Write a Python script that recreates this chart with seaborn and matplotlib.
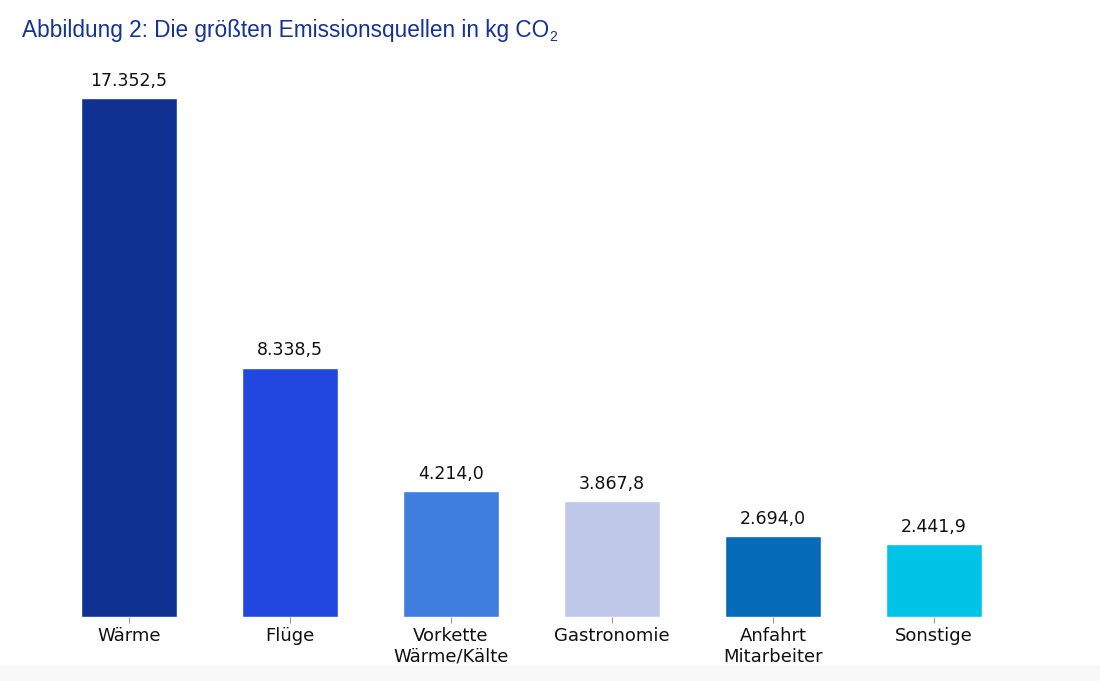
import os
import seaborn as sns
import pandas as pd
import matplotlib.pyplot as plt
from matplotlib import font_manager
from matplotlib.patches import Rectangle

categories = ["Wärme", "Flüge", "Vorkette\nWärme/Kälte", "Gastronomie", "Anfahrt\nMitarbeiter", "Sonstige"]
values = [17352.5, 8338.5, 4214.0, 3867.8, 2694.0, 2441.9]
colors = ["#0e3192", "#2247de", "#3f7ddf", "#bfc8e8", "#066bb8", "#00c3e8"]

df = pd.DataFrame({"kategorie": categories, "wert": values})

# pick the regular (not narrow) Liberation Sans file for the title
title_font = None
candidates = font_manager.findSystemFonts() + [f.fname for f in font_manager.fontManager.ttflist]
for path in candidates:
    if os.path.basename(path) == "LiberationSans-Regular.ttf":
        title_font = path
        break

sns.set_theme(style="white")
plt.rcParams["font.family"] = ["DejaVu Sans"]

fig = plt.figure(figsize=(11, 6.81), dpi=100)
ax = fig.add_axes([48.5 / 1100, 64 / 681, 966 / 1100, 598 / 681])

# faint grey band at the very bottom, like the screenshot
fig.patches.append(Rectangle((0, 0), 1, 16 / 681, transform=fig.transFigure,
                             facecolor="#f8f8f8", edgecolor="none", zorder=0))

sns.barplot(data=df, x="kategorie", y="wert", hue="kategorie", palette=colors,
            legend=False, width=0.6, saturation=1, ax=ax)

ax.set_ylim(0, 20000)
ax.set_xlim(-0.5, 5.5)
for s in ax.spines.values():
    s.set_visible(False)
ax.set_yticks([])
ax.set_xlabel("")
ax.set_ylabel("")
ax.tick_params(axis="x", bottom=True, length=4, width=0.8, color="#999999",
               labelsize=13, pad=3, labelcolor="#111111")

for i, v in enumerate(values):
    txt = f"{v:,.1f}".replace(",", "X").replace(".", ",").replace("X", ".")
    ax.annotate(txt, (i, v), xytext=(0, 6), textcoords="offset points",
                ha="center", va="bottom", fontsize=12.5, color="#111111")

title = "Abbildung 2: Die größten Emissionsquellen in kg CO"
if title_font:
    fp = font_manager.FontProperties(fname=title_font, size=16.3)
else:
    fp = font_manager.FontProperties(family="DejaVu Sans", size=14.5)
t = fig.text(22 / 1100, 1 - 37.5 / 681, title, fontproperties=fp,
             color="#14339a", va="baseline", ha="left")
# subscript 2 placed right after the title text
fig.canvas.draw()
bb = t.get_window_extent()
fp_sub = fp.copy()
fp_sub.set_size(10)
fig.text((bb.x1 + 0.5) / 1100, 1 - 40.8 / 681, "2", fontproperties=fp_sub,
         color="#14339a", va="baseline", ha="left")

fig.savefig("out.png", dpi=100)
